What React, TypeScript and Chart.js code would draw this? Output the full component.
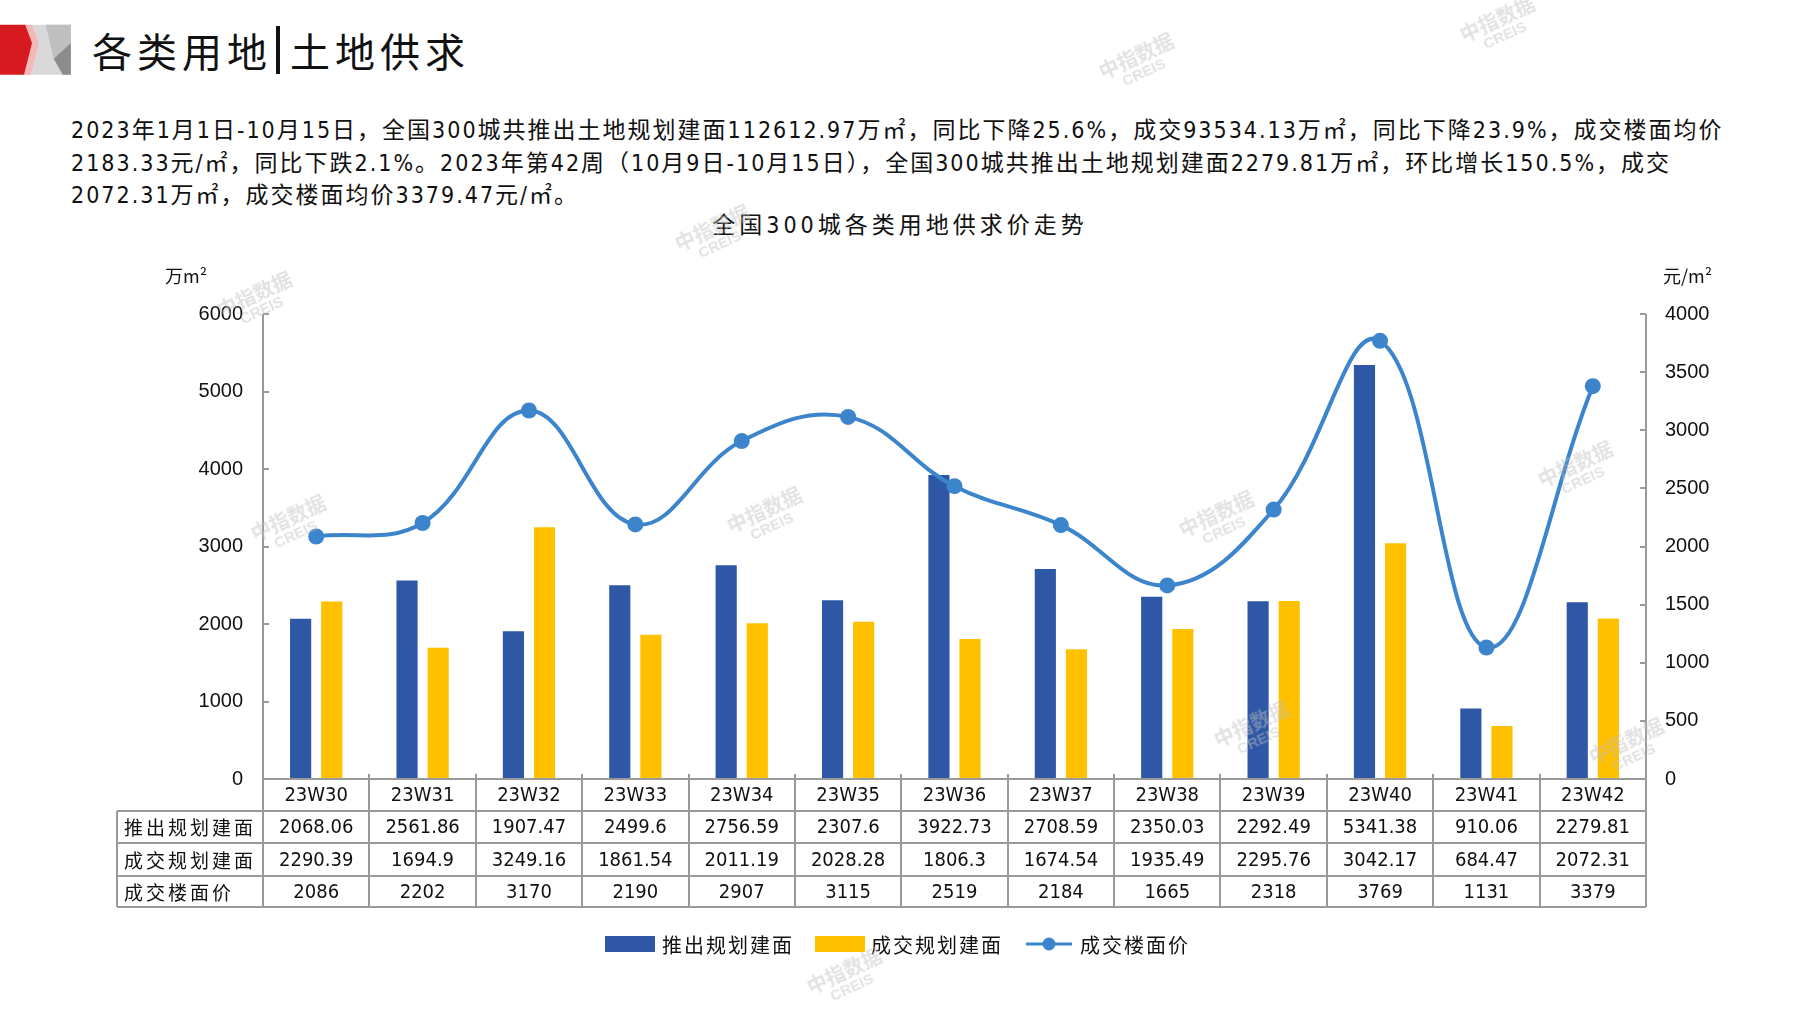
import React, { useEffect, useRef } from 'react';
import { Chart, registerables } from 'chart.js';

Chart.register(...registerables);

const categories = ['23W30', '23W31', '23W32', '23W33', '23W34', '23W35', '23W36', '23W37', '23W38', '23W39', '23W40', '23W41', '23W42'];
const supplyArea = [2068.06, 2561.86, 1907.47, 2499.6, 2756.59, 2307.6, 3922.73, 2708.59, 2350.03, 2292.49, 5341.38, 910.06, 2279.81];
const dealArea = [2290.39, 1694.9, 3249.16, 1861.54, 2011.19, 2028.28, 1806.3, 1674.54, 1935.49, 2295.76, 3042.17, 684.47, 2072.31];
const dealPrice = [2086, 2202, 3170, 2190, 2907, 3115, 2519, 2184, 1665, 2318, 3769, 1131, 3379];
const seriesNames = ['推出规划建面', '成交规划建面', '成交楼面价'];

const pageTitleA = '各类用地';
const pageTitleB = '土地供求';
const paragraphLines = [
  '2023年1月1日-10月15日，全国300城共推出土地规划建面112612.97万㎡，同比下降25.6%，成交93534.13万㎡，同比下降23.9%，成交楼面均价',
  '2183.33元/㎡，同比下跌2.1%。2023年第42周（10月9日-10月15日），全国300城共推出土地规划建面2279.81万㎡，环比增长150.5%，成交',
  '2072.31万㎡，成交楼面均价3379.47元/㎡。',
];
const chartTitle = '全国300城各类用地供求价走势';
const leftUnit = '万m²';
const rightUnit = '元/m²';

const BLUE = '#2E58A6';
const YELLOW = '#FFC000';
const LINE = '#3C84CC';
const GRID = '#9A9A9A';
const NUM_FONT = '"Liberation Sans Narrow", "DejaVu Sans Condensed", "Noto Sans CJK SC", sans-serif';
const CJK_FONT = '"Noto Sans CJK SC", sans-serif';

const watermarks: [number, number][] = [
  [1140, 71], [1501, 34], [716, 243], [258, 309], [292, 533], [768, 525],
  [1220, 529], [1579, 479], [1255, 739], [1630, 756], [848, 986],
];

const tablePlugin = {
  id: 'tablePlugin',
  afterDraw(chart: any) {
    const ctx = chart.ctx;
    const area = chart.chartArea;
    const x = chart.scales.x;
    const yL = chart.scales.y;
    const yR = chart.scales.y1;
    ctx.save();
    ctx.strokeStyle = GRID;
    ctx.lineWidth = 2;
    ctx.beginPath();
    ctx.moveTo(area.left, area.top);
    ctx.lineTo(area.left, area.bottom);
    ctx.moveTo(area.right, area.top);
    ctx.lineTo(area.right, area.bottom);
    yL.ticks.forEach((t: any) => {
      const py = Math.round(yL.getPixelForValue(t.value));
      ctx.moveTo(area.left, py);
      ctx.lineTo(area.left + 6, py);
    });
    yR.ticks.forEach((t: any) => {
      const py = Math.round(yR.getPixelForValue(t.value));
      ctx.moveTo(area.right, py);
      ctx.lineTo(area.right - 6, py);
    });
    ctx.stroke();

    const n = categories.length;
    const cw = (area.right - area.left) / n;
    const rowH = [32, 32, 33, 31];
    const top = area.bottom;
    const rows: number[] = [top];
    rowH.forEach((h) => rows.push(rows[rows.length - 1] + h));
    const labelLeft = 117;
    ctx.beginPath();
    for (let i = 0; i <= n; i++) {
      const bx = Math.round(area.left + i * cw);
      ctx.moveTo(bx, top);
      ctx.lineTo(bx, top - 5);
    }
    ctx.moveTo(area.left, rows[0]);
    ctx.lineTo(area.right, rows[0]);
    for (let r = 1; r < rows.length; r++) {
      ctx.moveTo(labelLeft, rows[r]);
      ctx.lineTo(area.right, rows[r]);
    }
    for (let i = 0; i <= n; i++) {
      const bx = Math.round(area.left + i * cw);
      ctx.moveTo(bx, rows[0]);
      ctx.lineTo(bx, rows[4]);
    }
    ctx.moveTo(labelLeft, rows[1]);
    ctx.lineTo(labelLeft, rows[4]);
    ctx.stroke();

    ctx.fillStyle = '#111';
    ctx.textBaseline = 'middle';
    ctx.textAlign = 'center';
    ctx.font = `20px ${NUM_FONT}`;
    const mid = (r: number) => (rows[r] + rows[r + 1]) / 2 + 1;
    categories.forEach((c, i) => {
      const cx = x.getPixelForValue(i);
      ctx.fillText(c, cx, mid(0));
      ctx.fillText(String(supplyArea[i]), cx, mid(1));
      ctx.fillText(String(dealArea[i]), cx, mid(2));
      ctx.fillText(String(dealPrice[i]), cx, mid(3));
    });
    ctx.textAlign = 'left';
    ctx.font = `19px ${CJK_FONT}`;
    (ctx as any).letterSpacing = '3px';
    seriesNames.forEach((s, i) => {
      ctx.fillText(s, 124, mid(i + 1));
    });

    // legend
    const ly = 944;
    const ds = chart.data.datasets;
    ctx.font = `20px ${CJK_FONT}`;
    (ctx as any).letterSpacing = '2px';
    ctx.fillStyle = ds[0].backgroundColor;
    ctx.fillRect(605, ly - 8, 50, 16);
    ctx.fillStyle = '#111';
    ctx.fillText(ds[0].label, 662, ly + 1);
    ctx.fillStyle = ds[1].backgroundColor;
    ctx.fillRect(815, ly - 8, 50, 16);
    ctx.fillStyle = '#111';
    ctx.fillText(ds[1].label, 871, ly + 1);
    ctx.strokeStyle = ds[2].borderColor;
    ctx.lineWidth = 3;
    ctx.beginPath();
    ctx.moveTo(1026, ly);
    ctx.lineTo(1072, ly);
    ctx.stroke();
    ctx.fillStyle = ds[2].borderColor;
    ctx.beginPath();
    ctx.arc(1049, ly, 6.5, 0, Math.PI * 2);
    ctx.fill();
    ctx.fillStyle = '#111';
    ctx.fillText(ds[2].label, 1080, ly + 1);
    (ctx as any).letterSpacing = '0px';
    ctx.restore();
  },
};

const plainTick = (v: any) => String(v);

function ChartCanvas() {
  const ref = useRef<HTMLCanvasElement | null>(null);
  useEffect(() => {
    if (!ref.current) return;
    const chart = new Chart(ref.current, {
      type: 'bar',
      data: {
        labels: categories,
        datasets: [
          {
            type: 'bar',
            label: seriesNames[0],
            data: supplyArea,
            backgroundColor: BLUE,
            yAxisID: 'y',
            order: 2,
            barPercentage: 0.68,
            categoryPercentage: 0.585,
          },
          {
            type: 'bar',
            label: seriesNames[1],
            data: dealArea,
            backgroundColor: YELLOW,
            yAxisID: 'y',
            order: 3,
            barPercentage: 0.68,
            categoryPercentage: 0.585,
          },
          {
            type: 'line',
            label: seriesNames[2],
            data: dealPrice,
            borderColor: LINE,
            backgroundColor: LINE,
            borderWidth: 4,
            pointRadius: 8,
            pointBackgroundColor: LINE,
            pointBorderWidth: 0,
            tension: 0.4,
            yAxisID: 'y1',
            order: 1,
          } as any,
        ],
      },
      options: {
        responsive: false,
        animation: false,
        devicePixelRatio: 1,
        layout: { padding: { top: 314, left: 0, right: 0, bottom: 0 } },
        plugins: {
          legend: { display: false },
          title: { display: false },
          tooltip: { enabled: false },
        },
        scales: {
          x: {
            type: 'category',
            offset: true,
            grid: { display: false, drawTicks: false },
            border: { display: false },
            ticks: { display: false },
            afterFit: (s: any) => { s.height = 231; },
          },
          y: {
            type: 'linear',
            position: 'left',
            min: 0,
            max: 6000,
            ticks: {
              stepSize: 1000,
              padding: 20,
              color: '#111',
              callback: plainTick,
              font: { family: '"Liberation Sans", Arial, sans-serif', size: 20 },
            },
            grid: { display: false, drawTicks: false },
            border: { display: false },
            afterFit: (s: any) => { s.width = 263; },
          },
          y1: {
            type: 'linear',
            position: 'right',
            min: 0,
            max: 4000,
            ticks: {
              stepSize: 500,
              padding: 19,
              color: '#111',
              callback: plainTick,
              font: { family: '"Liberation Sans", Arial, sans-serif', size: 20 },
            },
            grid: { display: false, drawTicks: false },
            border: { display: false },
            afterFit: (s: any) => { s.width = 151; },
          },
        },
      },
      plugins: [tablePlugin],
    });
    return () => chart.destroy();
  }, []);
  return (
    <canvas
      ref={ref}
      width={1797}
      height={1010}
      style={{ position: 'absolute', left: 0, top: 0, width: 1797, height: 1010 }}
    />
  );
}

export default function App() {
  return (
    <div
      style={{
        position: 'fixed',
        left: 0,
        top: 0,
        width: 1797,
        height: 1010,
        background: '#fff',
        overflow: 'hidden',
        fontFamily: CJK_FONT,
        color: '#111',
      }}
    >
      <svg width={80} height={91} viewBox="0 0 70 80" preserveAspectRatio="none" style={{ position: 'absolute', left: 0, top: -6 }}>
        <rect x={18} y={27} width={44} height={44} fill="#D9D9D9" />
        <polygon points="40,27 62,27 62,43 47,57" fill="#BFBFBF" />
        <polygon points="47,57 62,43 62,71 55,71" fill="#8C8C8C" />
        <polygon points="22,27 28,27 34,43 27,71 21,71" fill="#F4B8B8" />
        <polygon points="0,27 22,27 28,43 21,71 0,71" fill="#D71920" />
      </svg>
      <div
        style={{
          position: 'absolute',
          left: 92,
          top: 24,
          height: 52,
          lineHeight: '52px',
          fontSize: 40,
          letterSpacing: 5,
          whiteSpace: 'nowrap',
          display: 'flex',
          alignItems: 'center',
        }}
      >
        <span>{pageTitleA}</span>
        <span style={{ display: 'inline-block', width: 4, height: 48, background: '#111', margin: '0 10px 0 4px' }} />
        <span>{pageTitleB}</span>
      </div>
      {paragraphLines.map((l, i) => (
        <div
          key={i}
          style={{
            position: 'absolute',
            left: 71,
            top: 114 + i * 32.5,
            height: 32,
            lineHeight: '32px',
            fontSize: 23,
            letterSpacing: 2,
            whiteSpace: 'nowrap',
            fontFamily: NUM_FONT,
          }}
        >
          {l}
        </div>
      ))}
      <div
        style={{
          position: 'absolute',
          left: 500,
          width: 800,
          top: 209,
          lineHeight: '32px',
          fontSize: 23,
          letterSpacing: 4,
          textAlign: 'center',
          whiteSpace: 'nowrap',
          fontFamily: NUM_FONT,
        }}
      >
        {chartTitle}
      </div>
      <ChartCanvas />
      <div style={{ position: 'absolute', left: 165, top: 262, lineHeight: '26px', fontSize: 18, whiteSpace: 'nowrap' }}>
        {leftUnit}
      </div>
      <div style={{ position: 'absolute', left: 1663, top: 262, lineHeight: '26px', fontSize: 18, whiteSpace: 'nowrap' }}>
        {rightUnit}
      </div>
      {watermarks.map(([wx, wy], i) => (
        <div
          key={i}
          style={{
            position: 'absolute',
            left: wx - 50,
            top: wy - 25,
            width: 100,
            textAlign: 'center',
            transform: 'rotate(-25deg)',
            color: 'rgba(190,190,190,0.45)',
            fontWeight: 700,
            lineHeight: '18px',
            pointerEvents: 'none',
          }}
        >
          <div style={{ fontSize: 20 }}>中指数据</div>
          <div style={{ fontSize: 15, fontFamily: '"Liberation Sans", sans-serif' }}>CREIS</div>
        </div>
      ))}
    </div>
  );
}
